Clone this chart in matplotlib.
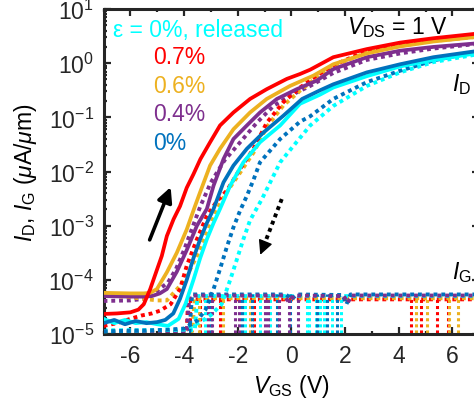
import numpy as np
import matplotlib
matplotlib.use('Agg')
import matplotlib.pyplot as plt
from matplotlib.ticker import MultipleLocator, LogLocator, NullFormatter

plt.rcParams['font.family'] = ['Liberation Sans', 'DejaVu Sans']
plt.rcParams['mathtext.fontset'] = 'custom'
plt.rcParams['mathtext.rm'] = 'Liberation Sans'
plt.rcParams['mathtext.it'] = 'Liberation Sans:italic'
plt.rcParams['mathtext.bf'] = 'Liberation Sans:bold'
plt.rcParams['axes.unicode_minus'] = False

# colours (MATLAB-like)
c_rel = '#00FFFF'
c_07 = '#FF0000'
c_06 = '#EDB120'
c_04 = '#7E2F8E'
c_00 = '#0072BD'

# ---- I_D, forward sweep (solid), values as log10(I / uA/um) ----
v_red_fwd = [-7, -6.5, -6, -5.7, -5.5, -5.26, -5.0, -4.83, -4.64, -4.39, -4.15, -3.9, -3.65, -3.39,
             -3.03, -2.66, -2.16, -1.54, -0.92, -0.17, 0.32, 0.7, 1.56, 2.81, 4.05, 5.29, 7]
lg_red_fwd = [-4.63, -4.62, -4.60, -4.55, -4.45, -4.17, -3.80, -3.56, -3.19, -2.88, -2.64, -2.30, -2.05, -1.77,
              -1.46, -1.15, -0.91, -0.66, -0.48, -0.29, -0.20, -0.12, 0.11, 0.26, 0.38, 0.46, 0.55]

v_gold_fwd = [-7, -6, -5.5, -5.26, -5.01, -4.64, -4.27, -3.9, -3.6, -3.4, -3.03, -2.66, -2.16, -1.54,
              -0.92, -0.05, 0.82, 1.56, 2.81, 4.05, 5.29, 7]
lg_gold_fwd = [-4.24, -4.25, -4.25, -4.24, -4.17, -3.86, -3.50, -3.07, -2.65, -2.38, -1.89, -1.58, -1.22, -0.91,
               -0.66, -0.42, -0.23, -0.02, 0.18, 0.31, 0.40, 0.49]

v_pur_fwd = [-7, -6, -5.5, -5.2, -4.9, -4.64, -4.27, -3.9, -3.52, -3.15, -2.9, -2.53, -2.16, -1.66,
             -1.17, -0.54, 0.2, 0.95, 1.56, 2.81, 4.05, 5.29, 7]
lg_pur_fwd = [-4.30, -4.31, -4.31, -4.30, -4.25, -4.17, -3.85, -3.45, -3.00, -2.69, -2.26, -1.77, -1.40, -1.15,
              -0.91, -0.66, -0.48, -0.32, -0.11, 0.11, 0.23, 0.30, 0.37]

v_blue_fwd = [-7, -6.6, -6.2, -5.8, -5.4, -5.0, -4.7, -4.4, -4.15, -3.9, -3.65, -3.4, -3.15, -2.9,
              -2.53, -2.16, -1.66, -1.04, -0.3, 0.4, 1.07, 1.56, 2.81, 4.05, 5.29, 7]
lg_blue_fwd = [-4.80, -4.74, -4.82, -4.76, -4.80, -4.78, -4.74, -4.62, -4.35, -4.00, -3.60, -3.25, -2.95, -2.69,
               -2.20, -1.89, -1.58, -1.28, -0.97, -0.66, -0.50, -0.39, -0.17, -0.02, 0.11, 0.23]

v_cyan_fwd = [-7, -6.6, -6.2, -5.8, -5.4, -5.0, -4.6, -4.2, -3.95, -3.65, -3.4, -3.15, -2.9, -2.66,
              -2.28, -1.79, -1.17, -0.42, 0.32, 1.07, 1.56, 2.81, 4.05, 5.29, 7]
lg_cyan_fwd = [-4.72, -4.80, -4.74, -4.80, -4.78, -4.82, -4.85, -4.72, -4.45, -4.00, -3.60, -3.25, -2.95, -2.69,
               -2.26, -1.83, -1.46, -1.15, -0.75, -0.58, -0.45, -0.24, -0.06, 0.06, 0.19]

# ---- I_D, reverse sweep (dotted) ----
v_red_rev = [-7, -6.5, -6, -5.6, -5.2, -4.9, -4.5, -4.15, -3.9, -3.52, -3.15, -2.78, -2.4, -1.91,
             -1.41, -0.92, -0.3, 0.32, 0.97, 1.56, 2.81, 4.05, 5.29, 7]
lg_red_rev = [-4.85, -4.80, -4.72, -4.66, -4.62, -4.57, -4.45, -4.17, -3.74, -3.25, -2.82, -2.55, -2.35, -1.95,
              -1.58, -1.10, -0.72, -0.45, -0.22, -0.04, 0.23, 0.36, 0.44, 0.52]

v_gold_rev = [-7, -6, -5.0, -4.64, -4.15, -3.9, -3.52, -3.15, -2.78, -2.41, -1.91, -1.41, -0.92,
              -0.3, 0.32, 0.97, 1.56, 2.81, 4.05, 5.29, 7]
lg_gold_rev = [-4.28, -4.32, -4.38, -4.38, -4.11, -3.93, -3.56, -3.13, -2.70, -2.38, -2.02, -1.65, -1.18,
               -0.78, -0.51, -0.25, -0.05, 0.20, 0.32, 0.41, 0.49]

v_pur_rev = [-7, -6, -5.5, -5.2, -5.0, -4.6, -4.3, -4.0, -3.7, -3.4, -3.0, -2.5, -1.91, -1.29,
             -0.67, -0.05, 0.7, 1.56, 2.81, 4.05, 5.29, 7]
lg_pur_rev = [-4.39, -4.38, -4.35, -4.28, -4.20, -4.05, -3.80, -3.45, -3.05, -2.65, -2.20, -1.80, -1.46, -1.10,
              -0.79, -0.60, -0.42, -0.18, 0.06, 0.18, 0.27, 0.36]

v_blue_rev = [-7, -5, -4, -3.5, -3.2, -2.9, -2.66, -2.41, -2.16, -1.91, -1.66, -1.41, -1.17, -0.42,
              0.32, 0.7, 1.56, 2.81, 4.05, 5.29, 7]
lg_blue_rev = [-4.95, -4.93, -4.90, -4.75, -4.55, -4.17, -3.80, -3.40, -3.03, -2.72, -2.45, -2.15, -1.83, -1.40,
               -1.08, -0.98, -0.66, -0.35, -0.14, 0.05, 0.22]

v_cyan_rev = [-7, -4, -3.4, -3.0, -2.6, -2.28, -2.03, -1.79, -1.54, -1.1, -0.79, -0.42, 0.07, 0.7,
              1.56, 2.81, 4.05, 5.29, 7]
lg_cyan_rev = [-4.95, -4.92, -4.78, -4.65, -4.45, -4.00, -3.62, -3.25, -2.90, -2.51, -2.20, -1.83, -1.53, -1.15,
               -0.79, -0.42, -0.17, 0.02, 0.17]

# ---- I_G (dotted): base trace and voltages where the noisy signal drops below 1e-5 ----
ig_v_red = [-7, -3.9, -3.85, 7]
ig_lg_red = [-4.98, -4.98, -4.36, -4.36]
ig_drop_red = [-3.77, -3.40, -2.66, -1.39, 4.46, 4.83, 5.44, 5.83]

ig_v_gold = [-7, -3.7, -3.6, 7]
ig_lg_gold = [-4.95, -4.95, -4.34, -4.34]
ig_drop_gold = [-3.46, -2.55, -1.55, 4.64, 5.04, 5.87, 6.22]

ig_v_pur = [-7, -3.9, -3.8, -0.3, -0.1, 0.1, 1.95, 2.1, 2.25, 7]
ig_lg_pur = [-4.97, -4.97, -4.29, -4.29, -4.40, -4.29, -4.30, -4.42, -4.29, -4.29]
ig_drop_pur = [-3.09, -2.95, -2.10, -1.95, -1.0, -0.89, -0.46, -0.1, 0.25]

ig_v_blue = [-7, -3.8, -3.7, -0.2, 0.0, 0.2, 1.9, 2.05, 2.2, 7]
ig_lg_blue = [-4.96, -4.96, -4.27, -4.27, -4.36, -4.27, -4.28, -4.45, -4.27, -4.27]
ig_drop_blue = [-3.0, -1.85, -1.45, -0.54, -0.05, 0.95, 1.32, 1.69]

ig_v_cyan = [-7, -3.6, -3.5, 7]
ig_lg_cyan = [-4.93, -4.93, -4.30, -4.30]
ig_drop_cyan = [-3.21, -1.72, -1.17, -0.79, 0.57, 0.66, 0.91, 1.07, 1.22, 1.50, 1.84]

strain_labels = ['0.7%', '0.6%', '0.4%', '0%']

fig = plt.figure(figsize=(4.74, 4.10), dpi=100)
ax = fig.add_axes([0.2184, 0.1829, 0.7928, 0.7927])
ax.set_yscale('log')

dot = (0, (1, 1))
lw_s = 2.7
lw_d = 2.8
fs = 16.5

ig_sets = [(ig_v_red, ig_lg_red, ig_drop_red, c_07),
           (ig_v_gold, ig_lg_gold, ig_drop_gold, c_06),
           (ig_v_cyan, ig_lg_cyan, ig_drop_cyan, c_rel),
           (ig_v_blue, ig_lg_blue, ig_drop_blue, c_00),
           (ig_v_pur, ig_lg_pur, ig_drop_pur, c_04)]
for v, lg, drops, c in ig_sets:
    lvl = 10.0 ** np.max(lg)
    ax.vlines(drops, 1e-6, lvl, colors=c, linestyles=dot, lw=2.2, zorder=2)
    ax.plot(v, 10.0 ** np.array(lg), color=c, ls=dot, lw=lw_d, zorder=2)

rev_sets = [(v_cyan_rev, lg_cyan_rev, c_rel), (v_blue_rev, lg_blue_rev, c_00),
            (v_pur_rev, lg_pur_rev, c_04), (v_gold_rev, lg_gold_rev, c_06),
            (v_red_rev, lg_red_rev, c_07)]
for v, lg, c in rev_sets:
    ax.plot(v, 10.0 ** np.array(lg), color=c, ls=dot, lw=lw_d, zorder=3)

fwd_sets = [(v_cyan_fwd, lg_cyan_fwd, c_rel), (v_blue_fwd, lg_blue_fwd, c_00),
            (v_pur_fwd, lg_pur_fwd, c_04), (v_gold_fwd, lg_gold_fwd, c_06),
            (v_red_fwd, lg_red_fwd, c_07)]
for v, lg, c in fwd_sets:
    ax.plot(v, 10.0 ** np.array(lg), color=c, ls='-', lw=lw_s, zorder=4)

# sweep direction arrows
ax.annotate('', xy=(-4.46, 5.75e-3), xytext=(-5.32, 4.9e-4),
            arrowprops=dict(arrowstyle='-|>', lw=2.6, color='k', mutation_scale=22), zorder=6)
ax.plot([-0.36, -1.05], [3.1e-3, 4.0e-4], color='k', ls=dot, lw=2.8, zorder=6)
ax.annotate('', xy=(-1.2, 2.6e-4), xytext=(-1.0, 4.6e-4),
            arrowprops=dict(arrowstyle='-|>', lw=1.0, color='k', mutation_scale=22), zorder=6)

ax.set_xlim(-7, 7)
ax.set_ylim(1e-5, 10)
ax.xaxis.set_major_locator(MultipleLocator(2))
ax.xaxis.set_minor_locator(MultipleLocator(1))
ax.yaxis.set_major_locator(LogLocator(base=10, numticks=10))
ax.yaxis.set_minor_locator(LogLocator(base=10, subs=np.arange(2, 10), numticks=10))
ax.yaxis.set_minor_formatter(NullFormatter())

for s in ax.spines.values():
    s.set_linewidth(2.2)
    s.set_color('#262626')
ax.tick_params(which='both', direction='in', top=True, right=True, colors='#262626',
               labelsize=fs, width=1.6)
ax.tick_params(which='major', length=5, pad=7)
ax.tick_params(which='minor', length=2.5)

ax.set_xlabel(r'$V_{\rm GS}$ (V)', fontsize=fs)
ax.set_ylabel(r'$I_{\rm D}$, $I_{\rm G}$ ($\mu$A/$\mu$m)', fontsize=fs)
ax.xaxis.set_label_coords(0.5, -0.118)
ax.yaxis.set_label_coords(-0.172, 0.5)

ax.text(-6.64, 10 ** 0.507, 'ε = 0%, released', color=c_rel, fontsize=fs, va='baseline')
for lab, c, lgy in zip(strain_labels, [c_07, c_06, c_04, c_00], [0.003, -0.527, -1.05, -1.585]):
    ax.text(-5.15, 10 ** lgy, lab, color=c, fontsize=fs, va='baseline')
ax.text(2.08, 10 ** 0.556, r'$V_{\rm DS}$ = 1 V', color='k', fontsize=fs, va='baseline')
ax.text(5.99, 10 ** -0.49, r'$I_{\rm D}$', color='k', fontsize=fs, va='baseline')
ax.text(5.99, 10 ** -3.966, r'$I_{\rm G}$', color='k', fontsize=fs, va='baseline')

fig.savefig('out.png', dpi=100)
